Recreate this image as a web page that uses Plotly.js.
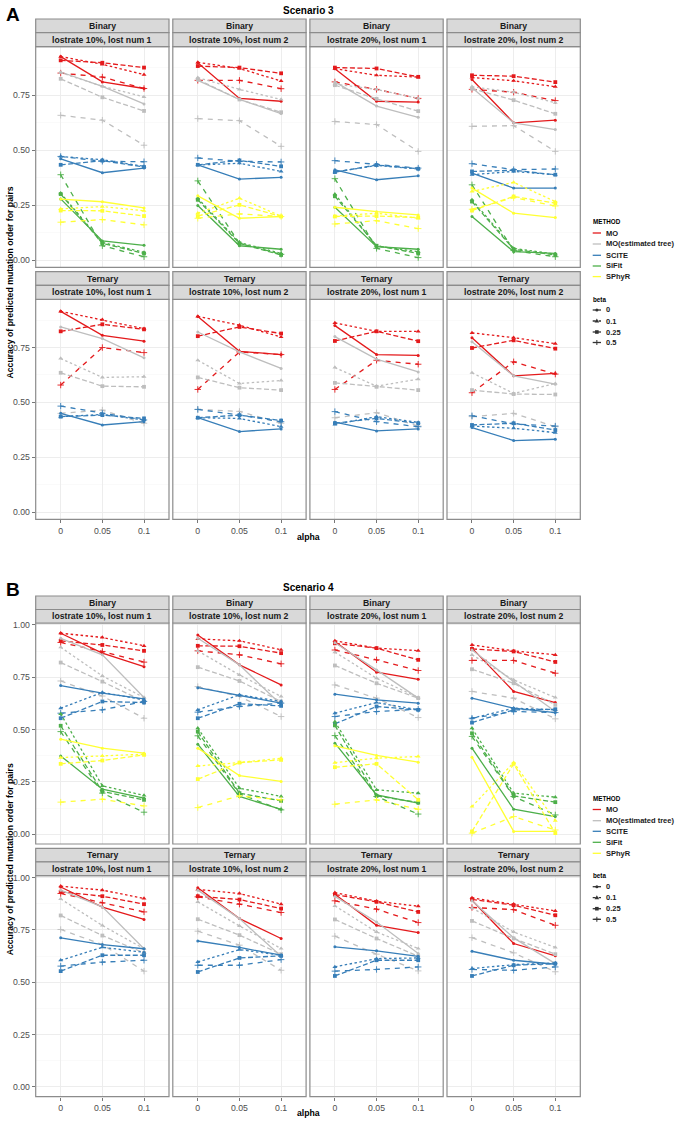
<!DOCTYPE html>
<html><head><meta charset="utf-8">
<script src="https://cdn.plot.ly/plotly-3.0.1.min.js"></script>
<style>html,body{margin:0;padding:0;background:#fff;}#chart{width:682px;height:1124px;}</style>
</head><body><div id="chart"></div>
<script>
// ---------- labels ----------
const alphaLabels = ["0", "0.05", "0.1"];
const betaLabels = ["0", "0.1", "0.25", "0.5"];
const methodNames = ["MO", "MO(estimated tree)", "SCITE", "SiFit", "SPhyR"];
const typeLabels = ["Binary", "Ternary"];
const facetLabels = ["lostrate 10%, lost num 1", "lostrate 10%, lost num 2", "lostrate 20%, lost num 1", "lostrate 20%, lost num 2"];
const scenarioTitles = ["Scenario 3", "Scenario 4"];
const panelLetters = ["A", "B"];
const yAxisTitle = "Accuracy of predicted mutation order for pairs";
const xAxisTitle = "alpha";

// ---------- data: [facet][beta][alpha] ----------
// Scenario 3, Binary
const S3_BIN_MO = [
  [[0.925,0.81,0.78],[0.925,0.89,0.843],[0.908,0.897,0.875],[0.85,0.832,0.78]],
  [[0.897,0.735,0.722],[0.899,0.871,0.814],[0.882,0.875,0.849],[0.817,0.817,0.779]],
  [[0.87,0.722,0.718],[0.87,0.84,0.832],[0.875,0.871,0.833],[0.81,0.776,0.735]],
  [[0.821,0.624,0.636],[0.83,0.815,0.788],[0.84,0.836,0.809],[0.776,0.763,0.725]]];
const S3_BIN_MOE = [
  [[0.855,0.79,0.71],[0.852,0.79,0.742],[0.824,0.74,0.678],[0.658,0.636,0.522]],
  [[0.817,0.73,0.666],[0.829,0.776,0.73],[0.821,0.73,0.672],[0.643,0.634,0.517]],
  [[0.81,0.70,0.649],[0.80,0.776,0.735],[0.795,0.733,0.677],[0.63,0.616,0.494]],
  [[0.783,0.624,0.593],[0.788,0.763,0.715],[0.779,0.727,0.665],[0.608,0.611,0.494]]];
const S3_BIN_SCITE = [
  [[0.46,0.397,0.418],[0.471,0.456,0.426],[0.433,0.452,0.423],[0.471,0.449,0.447]],
  [[0.433,0.368,0.376],[0.432,0.44,0.403],[0.433,0.453,0.426],[0.464,0.449,0.446]],
  [[0.41,0.365,0.383],[0.40,0.43,0.414],[0.40,0.432,0.415],[0.452,0.435,0.418]],
  [[0.395,0.327,0.327],[0.388,0.403,0.388],[0.403,0.408,0.388],[0.438,0.411,0.414]]];
const S3_BIN_SIFIT = [
  [[0.278,0.087,0.067],[0.304,0.08,0.035],[0.30,0.076,0.03],[0.388,0.065,0.015]],
  [[0.248,0.065,0.049],[0.281,0.08,0.03],[0.274,0.076,0.023],[0.36,0.076,0.026]],
  [[0.24,0.061,0.049],[0.30,0.064,0.038],[0.29,0.065,0.03],[0.37,0.053,0.011]],
  [[0.198,0.038,0.03],[0.274,0.053,0.027],[0.266,0.049,0.023],[0.342,0.043,0.015]]];
const S3_BIN_SPHYR = [
  [[0.277,0.265,0.237],[0.233,0.243,0.224],[0.225,0.224,0.20],[0.172,0.184,0.16]],
  [[0.292,0.19,0.198],[0.213,0.281,0.20],[0.20,0.251,0.198],[0.19,0.21,0.198]],
  [[0.24,0.22,0.205],[0.20,0.213,0.19],[0.198,0.20,0.193],[0.164,0.179,0.143]],
  [[0.327,0.213,0.193],[0.312,0.353,0.266],[0.225,0.289,0.259],[0.231,0.284,0.246]]];
// Scenario 3, Ternary
const S3_TER_MO = [
  [[0.915,0.806,0.779],[0.915,0.877,0.836],[0.824,0.856,0.833],[0.579,0.75,0.727]],
  [[0.892,0.733,0.718],[0.892,0.852,0.798],[0.802,0.844,0.814],[0.559,0.73,0.718]],
  [[0.85,0.718,0.714],[0.862,0.824,0.824],[0.78,0.824,0.779],[0.559,0.692,0.674]],
  [[0.795,0.621,0.632],[0.817,0.795,0.768],[0.748,0.783,0.745],[0.544,0.685,0.629]]];
const S3_TER_MOE = [
  [[0.844,0.791,0.703],[0.70,0.614,0.617],[0.635,0.574,0.571],[0.45,0.465,0.405]],
  [[0.821,0.73,0.655],[0.692,0.586,0.60],[0.614,0.567,0.556],[0.468,0.459,0.405]],
  [[0.80,0.697,0.639],[0.659,0.574,0.606],[0.589,0.571,0.556],[0.43,0.453,0.392]],
  [[0.776,0.621,0.583],[0.635,0.541,0.586],[0.556,0.538,0.536],[0.435,0.45,0.389]]];
const S3_TER_SCITE = [
  [[0.45,0.397,0.412],[0.435,0.445,0.42],[0.435,0.442,0.427],[0.483,0.45,0.42]],
  [[0.43,0.367,0.379],[0.43,0.427,0.389],[0.43,0.442,0.417],[0.468,0.442,0.412]],
  [[0.41,0.37,0.379],[0.40,0.435,0.409],[0.405,0.427,0.405],[0.458,0.412,0.389]],
  [[0.385,0.326,0.332],[0.392,0.382,0.362],[0.397,0.405,0.374],[0.439,0.402,0.392]]];
// Scenario 4, Binary
const S4_BIN_MO = [
  [[0.96,0.865,0.80],[0.96,0.94,0.90],[0.924,0.904,0.876],[0.916,0.873,0.822]],
  [[0.952,0.809,0.713],[0.933,0.924,0.881],[0.90,0.898,0.865],[0.876,0.857,0.814]],
  [[0.92,0.774,0.74],[0.924,0.889,0.877],[0.912,0.889,0.833],[0.88,0.833,0.782]],
  [[0.889,0.682,0.629],[0.904,0.876,0.857],[0.885,0.873,0.823],[0.83,0.83,0.769]]];
const S4_BIN_MOE = [
  [[0.936,0.857,0.653],[0.893,0.756,0.653],[0.82,0.729,0.634],[0.732,0.66,0.554]],
  [[0.936,0.809,0.618],[0.876,0.761,0.658],[0.798,0.732,0.634],[0.705,0.658,0.562]],
  [[0.915,0.785,0.65],[0.87,0.745,0.653],[0.806,0.721,0.65],[0.713,0.65,0.557]],
  [[0.88,0.729,0.586],[0.857,0.737,0.653],[0.788,0.721,0.618],[0.682,0.65,0.551]]];
const S4_BIN_SCITE = [
  [[0.71,0.674,0.646],[0.602,0.677,0.642],[0.554,0.634,0.629],[0.578,0.594,0.634]],
  [[0.70,0.662,0.626],[0.594,0.666,0.634],[0.554,0.623,0.613],[0.583,0.61,0.626]],
  [[0.669,0.642,0.626],[0.578,0.629,0.594],[0.527,0.61,0.594],[0.562,0.586,0.597]],
  [[0.65,0.602,0.581],[0.554,0.602,0.594],[0.533,0.594,0.597],[0.554,0.586,0.581]]];
const S4_BIN_SIFIT = [
  [[0.374,0.215,0.172],[0.575,0.231,0.185],[0.518,0.204,0.164],[0.49,0.196,0.105]],
  [[0.43,0.18,0.119],[0.506,0.22,0.18],[0.49,0.196,0.159],[0.47,0.193,0.116]],
  [[0.435,0.188,0.148],[0.538,0.212,0.196],[0.52,0.183,0.151],[0.471,0.18,0.096]],
  [[0.411,0.119,0.084],[0.506,0.196,0.177],[0.482,0.183,0.153],[0.467,0.18,0.092]]];
const S4_BIN_SPHYR = [
  [[0.454,0.411,0.387],[0.366,0.374,0.382],[0.336,0.352,0.379],[0.153,0.167,0.135]],
  [[0.411,0.28,0.252],[0.326,0.342,0.363],[0.263,0.342,0.355],[0.127,0.183,0.164]],
  [[0.422,0.376,0.344],[0.342,0.363,0.371],[0.32,0.336,0.164],[0.143,0.164,0.119]],
  [[0.368,0.013,0.013],[0.132,0.342,0.065],[0.013,0.336,0.005],[0.005,0.084,0.02]]];
// Scenario 4, Ternary
const S4_TER_MO = [
  [[0.955,0.859,0.80],[0.959,0.94,0.90],[0.932,0.911,0.873],[0.924,0.879,0.836]],
  [[0.951,0.804,0.709],[0.943,0.924,0.873],[0.911,0.895,0.852],[0.908,0.873,0.833]],
  [[0.92,0.772,0.737],[0.928,0.887,0.863],[0.919,0.884,0.836],[0.889,0.849,0.785]],
  [[0.892,0.685,0.626],[0.903,0.873,0.841],[0.896,0.868,0.82],[0.857,0.847,0.772]]];
const S4_TER_MOE = [
  [[0.94,0.86,0.66],[0.898,0.771,0.66],[0.819,0.723,0.64],[0.752,0.68,0.553]],
  [[0.94,0.804,0.624],[0.884,0.769,0.661],[0.801,0.725,0.634],[0.744,0.677,0.557]],
  [[0.91,0.788,0.637],[0.865,0.74,0.661],[0.80,0.709,0.624],[0.72,0.634,0.554]],
  [[0.889,0.712,0.589],[0.855,0.74,0.666],[0.793,0.709,0.634],[0.713,0.64,0.55]]];
const S4_TER_SCITE = [
  [[0.712,0.68,0.66],[0.605,0.667,0.643],[0.553,0.629,0.629],[0.577,0.596,0.605]],
  [[0.697,0.666,0.629],[0.597,0.656,0.629],[0.549,0.616,0.626],[0.581,0.581,0.608]],
  [[0.669,0.65,0.624],[0.573,0.613,0.616],[0.53,0.605,0.605],[0.553,0.561,0.573]],
  [[0.648,0.605,0.586],[0.565,0.584,0.592],[0.53,0.581,0.589],[0.561,0.557,0.573]]];

const DATA = [
  [[S3_BIN_MO, S3_BIN_MOE, S3_BIN_SCITE, S3_BIN_SIFIT, S3_BIN_SPHYR], [S3_TER_MO, S3_TER_MOE, S3_TER_SCITE]],
  [[S4_BIN_MO, S4_BIN_MOE, S4_BIN_SCITE, S4_BIN_SIFIT, S4_BIN_SPHYR], [S4_TER_MO, S4_TER_MOE, S4_TER_SCITE]]
];

// ---------- styles ----------
const methodColors = ["#E41A1C", "#BEBEBE", "#377EB8", "#4DAF4A", "#FFFF33"];
const betaSymbols = ["circle", "triangle-up", "square", "cross-thin"];
const betaSizes = [3, 4.3, 3.8, 4.6];
const betaDash = ["solid", "2.5px,2.5px", "5px,2.5px", "5px,5px"];

// ---------- geometry (pixels) ----------
const W = 682, H = 1124;
const P = x => x / W, Q = y => 1 - y / H;
const colPx = [[35.7, 169], [172.8, 306.1], [309.9, 443.2], [447, 580.3]];
const rowPx = [
  [{top: 19, mid: 32.7, pTop: 46.7, pBot: 267.3}, {top: 271.7, mid: 285.3, pTop: 299.3, pBot: 519.3}],
  [{top: 596, mid: 609.5, pTop: 623, pBot: 844}, {top: 848.3, mid: 861.8, pTop: 875.7, pBot: 1096.7}]
];
const yRanges = [[-0.033, 0.97], [-0.047, 1.009]];
const titleY = [10, 587];
const letterY = [14, 589];
const alphaY = [536.5, 1113];
const legendY = [
  {mTitle: 221.5, items: [233, 244, 255.3, 266, 276.6], bTitle: 299.3, bItems: [310, 321, 332, 342.5]},
  {mTitle: 798.3, items: [809.5, 820.7, 831.3, 842.3, 853.3], bTitle: 875.7, bItems: [886.7, 897.7, 908.7, 919.3]}
];

const FONT = "Liberation Sans, Arial, Helvetica, sans-serif";
const traces = [];
const layout = {
  width: W, height: H, margin: {l: 0, r: 0, t: 0, b: 0},
  paper_bgcolor: "#fff", plot_bgcolor: "#fff", showlegend: false, hovermode: false,
  font: {family: FONT, color: "#1A1A1A"},
  shapes: [], annotations: []
};

for (let s = 0; s < 2; s++) {
  for (let r = 0; r < 2; r++) {
    const g = rowPx[s][r];
    for (let c = 0; c < 4; c++) {
      const k = s * 8 + r * 4 + c + 1;
      const xa = "xaxis" + (k === 1 ? "" : k), ya = "yaxis" + (k === 1 ? "" : k);
      const xr = "x" + (k === 1 ? "" : k), yr = "y" + (k === 1 ? "" : k);
      const [x0, x1] = colPx[c];
      layout[xa] = {
        domain: [P(x0), P(x1)], anchor: yr, type: "category",
        categoryorder: "array", categoryarray: alphaLabels, range: [-0.6, 2.6],
        showgrid: true, gridcolor: "#EBEBEB", gridwidth: 0.9, zeroline: false, showline: false,
        ticks: r === 1 ? "outside" : "", ticklen: 3, tickcolor: "#555", tickwidth: 0.8,
        showticklabels: r === 1, tickfont: {size: 8.7, color: "#4D4D4D", family: FONT}, fixedrange: true
      };
      layout[ya] = {
        domain: [Q(g.pBot), Q(g.pTop)], anchor: xr, range: yRanges[s],
        tick0: 0, dtick: 0.25, tickformat: ".2f",
        showgrid: true, gridcolor: "#EBEBEB", gridwidth: 0.9, zeroline: false, showline: false,
        minor: {dtick: 0.125, tick0: 0, showgrid: true, gridcolor: "#F6F6F6", gridwidth: 0.6},
        ticks: c === 0 ? "outside" : "", ticklen: 3, tickcolor: "#555", tickwidth: 0.8,
        showticklabels: c === 0, tickfont: {size: 8.7, color: "#4D4D4D", family: FONT}, fixedrange: true
      };
      // panel border
      layout.shapes.push({type: "rect", xref: "paper", yref: "paper", x0: P(x0), x1: P(x1), y0: Q(g.pBot), y1: Q(g.pTop),
        line: {color: "#8C8C8C", width: 1.2}, fillcolor: "rgba(0,0,0,0)", layer: "above"});
      // strips
      layout.shapes.push({type: "rect", xref: "paper", yref: "paper", x0: P(x0), x1: P(x1), y0: Q(g.mid), y1: Q(g.top),
        line: {color: "#8C8C8C", width: 1.2}, fillcolor: "#D9D9D9", layer: "above"});
      layout.shapes.push({type: "rect", xref: "paper", yref: "paper", x0: P(x0), x1: P(x1), y0: Q(g.pTop), y1: Q(g.mid),
        line: {color: "#8C8C8C", width: 1.2}, fillcolor: "#D9D9D9", layer: "above"});
      layout.annotations.push({xref: "paper", yref: "paper", x: P((x0 + x1) / 2), y: Q((g.top + g.mid) / 2),
        text: "<b>" + typeLabels[r] + "</b>", showarrow: false, xanchor: "center", yanchor: "middle",
        font: {size: 8.7, color: "#1A1A1A", family: FONT}});
      layout.annotations.push({xref: "paper", yref: "paper", x: P((x0 + x1) / 2), y: Q((g.mid + g.pTop) / 2),
        text: "<b>" + facetLabels[c] + "</b>", showarrow: false, xanchor: "center", yanchor: "middle",
        font: {size: 8.7, color: "#1A1A1A", family: FONT}});

      const methodsData = DATA[s][r];
      for (let m = 0; m < methodsData.length; m++) {
        for (let b = 0; b < betaLabels.length; b++) {
          traces.push({
            type: "scatter", mode: "lines+markers", xaxis: xr, yaxis: yr,
            x: alphaLabels, y: methodsData[m][c][b],
            name: methodNames[m] + ", beta " + betaLabels[b],
            line: {color: methodColors[m], width: 1.3, dash: betaDash[b]},
            marker: {symbol: betaSymbols[b], size: betaSizes[b], color: methodColors[m],
              line: {color: methodColors[m], width: b === 3 ? 0.9 : 0}},
            cliponaxis: false, hoverinfo: "skip"
          });
        }
      }
    }
  }
  // titles
  layout.annotations.push({xref: "paper", yref: "paper", x: P(308), y: Q(titleY[s]), text: "<b>" + scenarioTitles[s] + "</b>",
    showarrow: false, xanchor: "center", yanchor: "middle", font: {size: 10, color: "#000", family: FONT}});
  layout.annotations.push({xref: "paper", yref: "paper", x: P(4), y: Q(letterY[s]), text: "<b>" + panelLetters[s] + "</b>",
    showarrow: false, xanchor: "left", yanchor: "middle", font: {size: 19, color: "#000", family: FONT}});
  layout.annotations.push({xref: "paper", yref: "paper", x: P(308), y: Q(alphaY[s]), text: "<b>" + xAxisTitle + "</b>",
    showarrow: false, xanchor: "center", yanchor: "middle", font: {size: 8.7, color: "#000", family: FONT}});
  const yc = (rowPx[s][0].pTop + rowPx[s][1].pBot) / 2;
  layout.annotations.push({xref: "paper", yref: "paper", x: P(9.5), y: Q(yc), text: "<b>" + yAxisTitle + "</b>",
    showarrow: false, textangle: -90, xanchor: "center", yanchor: "middle", font: {size: 8.7, color: "#000", family: FONT}});

  // legends
  const L = legendY[s];
  const lx0 = 592.7, lx1 = 601, tx = 604.3;
  layout.annotations.push({xref: "paper", yref: "paper", x: P(590.5), y: Q(L.mTitle), text: "<b>METHOD</b>",
    showarrow: false, xanchor: "left", yanchor: "middle", font: {size: 6.3, color: "#000", family: FONT}});
  methodNames.forEach((nm, i) => {
    layout.shapes.push({type: "line", xref: "paper", yref: "paper", x0: P(lx0), x1: P(lx1), y0: Q(L.items[i]), y1: Q(L.items[i]),
      line: {color: methodColors[i], width: 1.3}});
    layout.annotations.push({xref: "paper", yref: "paper", x: P(tx), y: Q(L.items[i]), text: "<b>" + nm + "</b>",
      showarrow: false, xanchor: "left", yanchor: "middle", font: {size: 7.5, color: "#1A1A1A", family: FONT}});
  });
  layout.annotations.push({xref: "paper", yref: "paper", x: P(590.5), y: Q(L.bTitle), text: "<b>beta</b>",
    showarrow: false, xanchor: "left", yanchor: "middle", font: {size: 6.3, color: "#000", family: FONT}});
  betaLabels.forEach((bl, i) => {
    const yy = L.bItems[i], cx = (lx0 + lx1) / 2;
    layout.shapes.push({type: "line", xref: "paper", yref: "paper", x0: P(lx0), x1: P(lx1), y0: Q(yy), y1: Q(yy),
      line: {color: "#333", width: 1.3, dash: i === 0 ? "solid" : (i === 1 ? "dot" : "dash")}});
    if (i === 0) {
      layout.shapes.push({type: "circle", xref: "paper", yref: "paper", x0: P(cx - 1.5), x1: P(cx + 1.5), y0: Q(yy + 1.5), y1: Q(yy - 1.5),
        fillcolor: "#333", line: {width: 0}});
    } else if (i === 1) {
      layout.shapes.push({type: "path", xref: "paper", yref: "paper",
        path: `M${P(cx - 2.3)},${Q(yy + 1.6)} L${P(cx + 2.3)},${Q(yy + 1.6)} L${P(cx)},${Q(yy - 2.4)} Z`, fillcolor: "#333", line: {width: 0}});
    } else if (i === 2) {
      layout.shapes.push({type: "rect", xref: "paper", yref: "paper", x0: P(cx - 1.8), x1: P(cx + 1.8), y0: Q(yy + 1.8), y1: Q(yy - 1.8),
        fillcolor: "#333", line: {width: 0}});
    } else {
      layout.shapes.push({type: "path", xref: "paper", yref: "paper",
        path: `M${P(cx - 2.5)},${Q(yy)} L${P(cx + 2.5)},${Q(yy)} M${P(cx)},${Q(yy - 2.5)} L${P(cx)},${Q(yy + 2.5)}`, line: {color: "#333", width: 1}});
    }
    layout.annotations.push({xref: "paper", yref: "paper", x: P(tx), y: Q(yy), text: "<b>" + bl + "</b>",
      showarrow: false, xanchor: "left", yanchor: "middle", font: {size: 7.5, color: "#1A1A1A", family: FONT}});
  });
}

Plotly.newPlot("chart", traces, layout, {displayModeBar: false, staticPlot: true});
</script>
</body></html>
